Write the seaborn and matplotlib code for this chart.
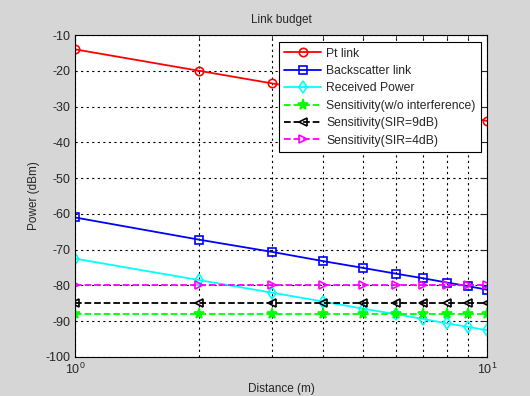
import numpy as np
import pandas as pd
import matplotlib
matplotlib.use("Agg")
import matplotlib.pyplot as plt
from matplotlib.ticker import NullFormatter
import seaborn as sns

sns.set_style("white")
plt.rcParams['font.family'] = ['Liberation Sans', 'DejaVu Sans']
plt.rcParams['axes.unicode_minus'] = False

# data
distance = [1, 2, 3, 4, 5, 6, 7, 8, 9, 10]
pt_link = [-14.0, -20.0, -23.5, -26.0, -28.0, -29.6, -30.9, -32.1, -33.1, -34.0]
backscatter = [-61.0, -67.2, -70.6, -73.2, -75.1, -76.7, -78.0, -79.2, -80.2, -81.2]
received = [-72.5, -78.5, -82.0, -84.5, -86.5, -88.0, -89.4, -90.6, -91.6, -92.5]
sens_none = [-88.0] * 10
sens_sir9 = [-85.0] * 10
sens_sir4 = [-80.0] * 10

series = [
    ("Pt link", pt_link, "#ff0000", "o", "-"),
    ("Backscatter link", backscatter, "#0000ff", "s", "-"),
    ("Received Power", received, "#00ffff", "d", "-"),
    ("Sensitivity(w/o interference)", sens_none, "#00ff00", "*", "--"),
    ("Sensitivity(SIR=9dB)", sens_sir9, "#000000", "<", "--"),
    ("Sensitivity(SIR=4dB)", sens_sir4, "#ff00ff", ">", "--"),
]

fig = plt.figure(figsize=(5.3, 3.96), dpi=100)
fig.patch.set_facecolor("#d6d6d6")
ax = fig.add_axes([0.1415, 0.0985, 0.7775, 0.8131])
ax.set_facecolor("white")

for name, vals, color, mk, ls in series:
    df = pd.DataFrame({"x": distance, "y": vals})
    filled = mk == "*"
    sns.lineplot(data=df, x="x", y="y", ax=ax, color=color, marker=mk,
                 linestyle=ls, linewidth=1.3, markersize=8 if filled else 6,
                 markerfacecolor=color if filled else "none",
                 markeredgecolor=color, markeredgewidth=1.2, label=name)

ax.set_xscale("log")
ax.set_xlim(1, 10)
ax.set_ylim(-100, -10)
ax.set_yticks(np.arange(-100, -9, 10))
ax.xaxis.set_minor_formatter(NullFormatter())
ax.grid(True, which="both", axis="x", color="black", linestyle=(0, (2, 3)), linewidth=0.8)
ax.grid(True, which="major", axis="y", color="black", linestyle=(0, (2, 3)), linewidth=0.8)
ax.tick_params(which="both", direction="in", top=True, right=True, labelsize=9)
ax.tick_params(which="major", length=5)
ax.tick_params(which="minor", length=3)
for sp in ax.spines.values():
    sp.set_color("black")
    sp.set_linewidth(0.8)

ax.set_title("Link budget", fontsize=8.5, pad=9)
ax.set_xlabel("Distance (m)", fontsize=8.5)
ax.set_ylabel("Power (dBm)", fontsize=8.5)

leg = ax.legend(loc="upper right", bbox_to_anchor=(0.985, 0.978), fontsize=8.7,
                fancybox=False, framealpha=1, edgecolor="black",
                handlelength=3.0, handletextpad=0.45, borderpad=0.45,
                labelspacing=0.45, borderaxespad=0)
leg.get_frame().set_linewidth(0.8)

fig.savefig("out.png", dpi=100, facecolor=fig.get_facecolor())
